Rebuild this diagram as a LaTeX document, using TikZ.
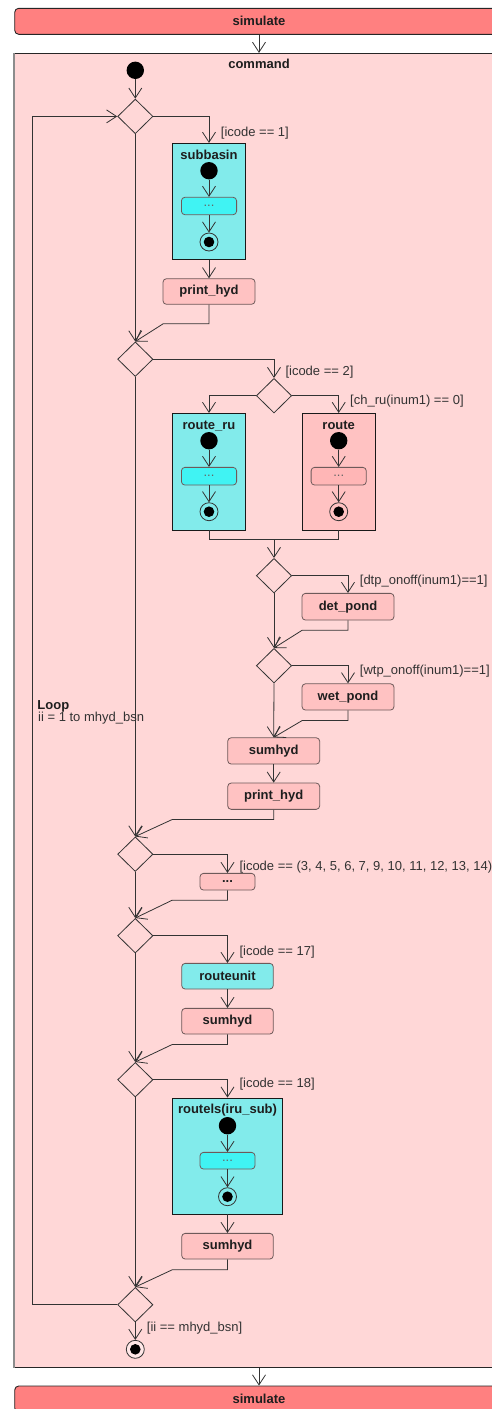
\documentclass[tikz,border=0pt]{standalone}
\usepackage{fontspec}
\setmainfont{Liberation Sans}
\usetikzlibrary{arrows.meta,shapes.geometric}
\definecolor{barred}{HTML}{FF8080}
\definecolor{cmdfill}{HTML}{FFD7D7}
\definecolor{actpink}{HTML}{FFC2C2}
\definecolor{actpinkdark}{HTML}{FFB6B6}
\definecolor{boxcyan}{HTML}{82EBEB}
\definecolor{actcyan}{HTML}{40F3F3}
\definecolor{edgecol}{HTML}{333333}
\definecolor{actedge}{HTML}{6E5A5A}
\definecolor{txt}{HTML}{1E1E1E}

\begin{document}
\begin{tikzpicture}[x=1pt,y=-1pt,
  every node/.style={font=\fontsize{13}{15}\selectfont, text=txt},
  flow/.style={draw=edgecol, line width=0.8pt,
    -{Straight Barb[length=10pt,width=13pt,line width=0.8pt]}},
  plain/.style={draw=edgecol, line width=0.8pt},
  bar/.style={rectangle, rounded corners=4pt, draw=black!85, fill=barred,
    line width=0.9pt, minimum width=488.6pt, minimum height=26pt, inner sep=0pt,
    font=\fontsize{13}{15}\selectfont\bfseries},
  decision/.style={diamond, draw=edgecol, fill=cmdfill, line width=0.8pt,
    minimum width=35.3pt, minimum height=34.6pt, inner sep=0pt},
  act/.style={rectangle, rounded corners=3.5pt, draw=actedge, fill=actpink,
    line width=0.8pt, inner sep=0pt, minimum width=92pt, minimum height=26pt,
    font=\fontsize{13}{15}\selectfont\bfseries},
  cyanact/.style={act, fill=boxcyan},
  subact/.style={act, font=\fontsize{13}{15}\selectfont, text=black!60,
    minimum width=55.2pt, minimum height=17.4pt},
  container/.style={rectangle, draw=black!90, line width=0.8pt, inner sep=0pt,
    minimum width=73.4pt},
  title/.style={inner sep=0pt, font=\fontsize{13}{15}\selectfont\bfseries},
  guard/.style={inner sep=0pt, anchor=west, text=black!80},
  startnode/.style={circle, fill=black, inner sep=0pt, minimum size=17.4pt},
  endnode/.style={circle, draw=black!80, fill=white!40!cmdfill, line width=0.8pt,
    inner sep=0pt, minimum size=18pt,
    path picture={\fill[black] (path picture bounding box.center) circle (5.3pt);}}
]
\useasboundingbox (0,0) rectangle (492,1409);
\clip (0,0) rectangle (492,1409);

% --- outer frame: simulate / command / simulate
\node[bar] (sim1) at (259,21.3) {simulate};
\node[rectangle, draw=black!85, fill=cmdfill, line width=0.9pt, inner sep=0pt,
      minimum width=488.6pt, minimum height=1313.7pt] (cmd) at (259,710.2) {};
\draw[black!45, line width=1.6pt] (cmd.north west) -- (cmd.south west);
\node[title] (cmdT) at (259,64) {command};
\node[bar] (sim2) at (259,1399) {simulate};
\draw[flow] (sim1.south) -- (cmd.north);
\draw[flow] (cmd.south) -- (sim2.north);

% --- main spine
\node[startnode] (ini) at (135.3,70.3) {};
\node[decision] (d1) at (135.3,116.4) {};
\node[decision] (d2) at (135.3,359.2) {};
\node[decision] (d6) at (135.3,854.2) {};
\node[decision] (d7) at (135.3,935.7) {};
\node[decision] (d8) at (135.3,1079.7) {};
\node[decision] (d9) at (135.3,1304.7) {};
\node[endnode] (fin) at (135.3,1349.3) {};

\draw[flow] (ini) -- (d1.north);
\draw[flow] (d1.south) -- (d2.north);
\draw[flow] (d2.south) -- (d6.north);
\draw[flow] (d6.south) -- (d7.north);
\draw[flow] (d7.south) -- (d8.north);
\draw[flow] (d8.south) -- (d9.north);
\draw[flow] (d9.south) -- (fin.north);
\draw[flow] (d9.west) -- ++(-84.4,0) |- (d1.west);

\node[inner sep=0pt, anchor=west, font=\fontsize{13}{15}\selectfont\bfseries] (loopT) at (37.3,706.7) {Loop};
\node[guard] (loopR) at (38,718.5) {ii = 1 to mhyd\_bsn};

% --- icode == 1 : subbasin
\node[container, fill=boxcyan, minimum height=116pt] (sub) at (209,201.3) {};
\node[title] (subT) at (209,155) {subbasin};
\node[startnode] (subI) at (209,170.7) {};
\node[subact, fill=actcyan] (subA) at (209,206) {...};
\node[endnode, fill=boxcyan] (subF) at (209,242) {};
\draw[flow] (subI) -- (subA.north);
\draw[flow] (subA.south) -- (subF.north);
\node[act, minimum height=25.6pt] (ph1) at (209,291.5) {print\_hyd};
\draw[flow] (d1.east) -| (sub.north);
\node[guard] (g1) at (220.7,132.7) {[icode == 1]};
\draw[flow] (sub.south) -- (ph1.north);
\draw[flow] (ph1.south) -- ++(0,19) -- ++(-45.7,0) -- (d2.north);

% --- icode == 2 : route_ru / route
\node[decision] (d3) at (274,395.7) {};
\draw[flow] (d2.east) -| (d3.north);
\node[guard] (g2) at (285.3,372) {[icode == 2]};

\node[container, fill=boxcyan, minimum height=116.7pt] (rr) at (209,471.7) {};
\node[title] (rrT) at (209,425.7) {route\_ru};
\node[startnode] (rrI) at (209,440.7) {};
\node[subact, fill=actcyan, minimum height=17.7pt] (rrA) at (209,476.2) {...};
\node[endnode, fill=boxcyan] (rrF) at (209,511.7) {};
\draw[flow] (rrI) -- (rrA.north);
\draw[flow] (rrA.south) -- (rrF.north);

\node[container, fill=actpink, minimum height=116.7pt] (rt) at (338.7,471.7) {};
\node[title] (rtT) at (338.7,425.7) {route};
\node[startnode] (rtI) at (338.7,440.7) {};
\node[subact, fill=actpinkdark, minimum height=17.7pt] (rtA) at (338.7,476.2) {...};
\node[endnode, fill=actpink] (rtF) at (338.7,511.7) {};
\draw[flow] (rtI) -- (rtA.north);
\draw[flow] (rtA.south) -- (rtF.north);

\draw[flow] (d3.west) -| (rr.north);
\draw[flow] (d3.east) -| (rt.north);
\node[guard] (g3) at (350,400.7) {[ch\_ru(inum1) == 0]};

\coordinate (join) at (274,539.7);
\draw[plain] (rr.south) |- (join);
\draw[plain] (rt.south) |- (join);

% --- ponds
\node[decision] (d4) at (274,575.7) {};
\draw[flow] (join) -- (d4.north);
\node[act, minimum height=26.7pt] (dp) at (348,606.7) {det\_pond};
\draw[flow] (d4.east) -| (dp.north);
\node[guard] (g4) at (359.7,580.7) {[dtp\_onoff(inum1)==1]};

\node[decision] (d5) at (274,665.7) {};
\draw[flow] (d4.south) -- (d5.north);
\draw[flow] (dp.south) -- ++(0,9.7) -- ++(-45.7,0) -- (d5.north);

\node[act, minimum height=26.3pt] (wp) at (348,696.9) {wet\_pond};
\draw[flow] (d5.east) -| (wp.north);
\node[guard] (g5) at (359.7,670.7) {[wtp\_onoff(inum1)==1]};

\node[act, minimum height=26.3pt] (sh1) at (273.7,750.9) {sumhyd};
\draw[flow] (d5.south) -- (sh1.north);
\draw[flow] (wp.south) -- ++(0,10) -- ++(-45.7,0) -- (sh1.north);

\node[act, minimum height=26.3pt] (ph2) at (273.7,796.2) {print\_hyd};
\draw[flow] (sh1.south) -- (ph2.north);
\draw[flow] (ph2.south) -- ++(0,9.7) -- ++(-101.4,0) -- (d6.north);

% --- other icodes
\node[act, minimum width=55pt, minimum height=16.7pt] (dt) at (227.5,881.7) {...};
\draw[flow] (d6.east) -| (dt.north);
\node[guard] (g6) at (239.3,866.7) {[icode == (3, 4, 5, 6, 7, 9, 10, 11, 12, 13, 14)]};
\draw[flow] (dt.south) -- ++(0,9.7) -- ++(-55.2,0) -- (d7.north);

% --- icode == 17
\node[cyanact, minimum width=91.6pt, minimum height=25.7pt] (ru) at (227.5,976.2) {routeunit};
\draw[flow] (d7.east) -| (ru.north);
\node[guard] (g7) at (239.3,952.3) {[icode == 17]};
\node[act, minimum width=91.6pt, minimum height=25.7pt] (sh2) at (227.5,1021.2) {sumhyd};
\draw[flow] (ru.south) -- (sh2.north);
\draw[flow] (sh2.south) -- ++(0,10) -- ++(-55.2,0) -- (d8.north);

% --- icode == 18
\node[container, fill=boxcyan, minimum width=110.4pt, minimum height=116pt] (rl) at (227.5,1156) {};
\node[title] (rlT) at (227.5,1110) {routels(iru\_sub)};
\node[startnode] (rlI) at (227.5,1125.7) {};
\node[subact, fill=actcyan, minimum width=55pt, minimum height=16.7pt] (rlA) at (227.5,1160.7) {...};
\node[endnode, fill=boxcyan] (rlF) at (227.5,1196.7) {};
\draw[flow] (rlI) -- (rlA.north);
\draw[flow] (rlA.south) -- (rlF.north);
\draw[flow] (d8.east) -| (rl.north);
\node[guard] (g8) at (239.3,1084.3) {[icode == 18]};

\node[act, minimum width=91.6pt, minimum height=25.7pt] (sh3) at (227.5,1246.2) {sumhyd};
\draw[flow] (rl.south) -- (sh3.north);
\draw[flow] (sh3.south) -- ++(0,10.3) -- ++(-55.2,0) -- (d9.north);

\node[guard] (g9) at (146.7,1328.3) {[ii == mhyd\_bsn]};
\end{tikzpicture}
\end{document}
